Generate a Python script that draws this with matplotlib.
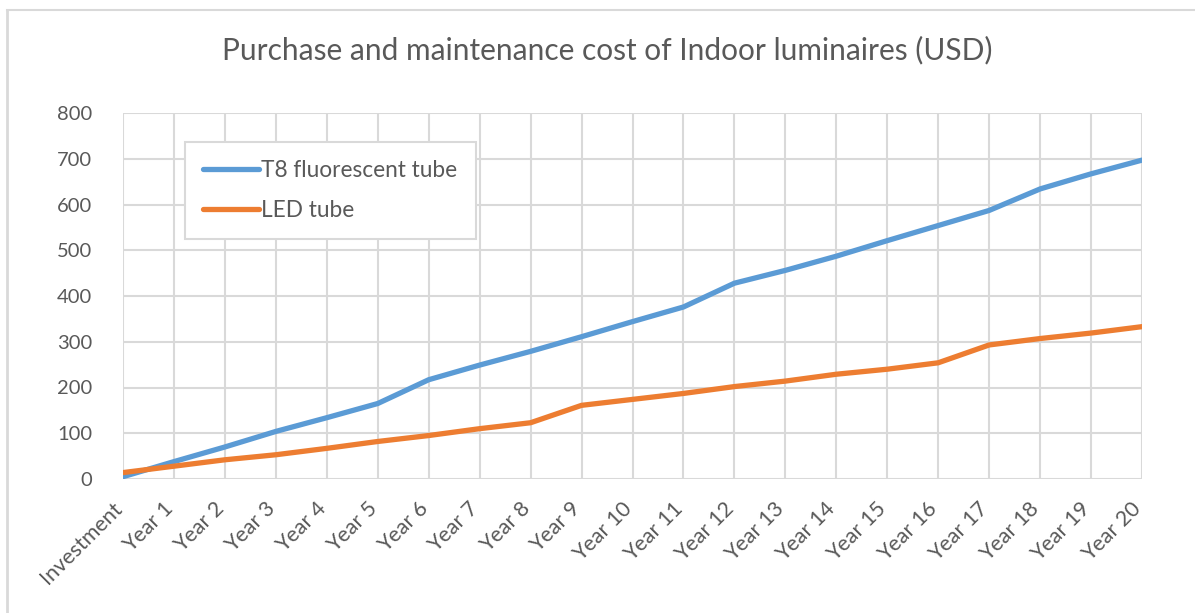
import matplotlib.pyplot as plt
import matplotlib.transforms as mtransforms
from matplotlib.lines import Line2D

# values
categories = ["Investment"] + [f"Year {i}" for i in range(1, 21)]
t8_tube = [5, 38, 70, 104, 134, 165, 217, 249, 279, 311, 344, 376, 428,
           456, 487, 521, 554, 587, 634, 667, 697]
led_tube = [14, 28, 42, 53, 67, 82, 95, 110, 123, 161, 174, 187, 202,
            214, 229, 240, 254, 293, 307, 319, 333]
y_ticks = [0, 100, 200, 300, 400, 500, 600, 700, 800]

plt.rcParams['font.family'] = ['Lato', 'DejaVu Sans']
txt = '#595959'
grid = '#d9d9d9'

fig = plt.figure(figsize=(11.95, 6.13), dpi=100)
ax = fig.add_axes([123 / 1195, (613 - 479) / 613, (1142 - 123) / 1195, (479 - 113) / 613])

x = list(range(len(categories)))
ax.plot(x, t8_tube, color='#5B9BD5', lw=3.8, solid_capstyle='round', label='T8 fluorescent tube', zorder=3)
ax.plot(x, led_tube, color='#ED7D31', lw=3.8, solid_capstyle='round', label='LED tube', zorder=3)

ax.set_xlim(0, len(categories) - 1)
ax.set_ylim(0, 800)
ax.set_yticks(y_ticks)
ax.set_xticks(x)
ax.set_xticklabels(categories, rotation=45, ha='right', va='center', rotation_mode='anchor')
ax.tick_params(axis='x', length=0, pad=19, labelsize=15.5, labelcolor=txt)
ax.tick_params(axis='y', length=0, pad=22, labelsize=14.5, labelcolor=txt)
shift = mtransforms.ScaledTranslation(-4 / 100, 0, fig.dpi_scale_trans)
for lab in ax.get_xticklabels():
    lab.set_transform(lab.get_transform() + shift)
ax.grid(True, color=grid, lw=1.5)
ax.set_axisbelow(True)
for s in ax.spines.values():
    s.set_visible(False)

leg = ax.legend(loc='upper left', bbox_to_anchor=((185 - 123) / 1019, (479 - 142) / 366),
                borderaxespad=0, frameon=True, fancybox=False, fontsize=16.3,
                handlelength=2.45, handletextpad=0.12, labelspacing=0.85,
                borderpad=0.8, labelcolor=txt)
leg.get_frame().set_edgecolor(grid)
leg.get_frame().set_linewidth(1.5)
leg.get_frame().set_alpha(1)

fig.text(607 / 1195, 1 - 50 / 613, "Purchase and maintenance cost of Indoor luminaires (USD)",
         ha='center', va='center', fontsize=21.5, color=txt)

# outer chart frame (top and left edges visible in the reference)
fig.add_artist(Line2D([7 / 1195, 1], [1 - 10 / 613, 1 - 10 / 613], color=grid, lw=1.5))
fig.add_artist(Line2D([7 / 1195, 7 / 1195], [0, 1 - 10 / 613], color=grid, lw=2))

fig.savefig('out.png', dpi=100)
